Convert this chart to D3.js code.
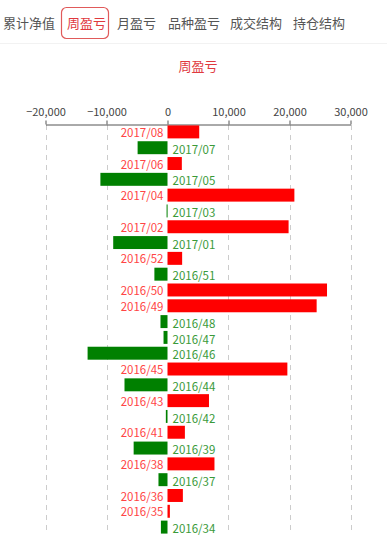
<!DOCTYPE html>
<html>
<head>
<meta charset="utf-8">
<script src="https://cdn.jsdelivr.net/npm/d3@7"></script>
<style>
  body { margin: 0; background: #fff; font-family: "Noto Sans CJK SC", "Noto Sans", sans-serif; }
</style>
</head>
<body>
<div id="chart"></div>
<script>
const TABS = ['累计净值', '周盈亏', '月盈亏', '品种盈亏', '成交结构', '持仓结构'];
const ACTIVE_TAB = '周盈亏';
const TITLE = '周盈亏';

const weeks = [
  '2017/08', '2017/07', '2017/06', '2017/05', '2017/04', '2017/03', '2017/02', '2017/01',
  '2016/52', '2016/51', '2016/50', '2016/49', '2016/48', '2016/47', '2016/46', '2016/45',
  '2016/44', '2016/43', '2016/42', '2016/41', '2016/39', '2016/38', '2016/37', '2016/36',
  '2016/35', '2016/34'
];
const profits = [
  5200, -4900, 2350, -11000, 20800, -150, 19850, -8900,
  2400, -2150, 26150, 24450, -1150, -650, -13100, 19650,
  -7050, 6800, -270, 2850, -5550, 7700, -1480, 2520,
  390, -1080
];
const xTicks = [-20000, -10000, 0, 10000, 20000, 30000];

const data = weeks.map((w, i) => ({ week: w, value: profits[i] }));

const W = 387, H = 548;
const svg = d3.select('#chart').append('svg').attr('width', W).attr('height', H);

// tab bar
const tabX = [3, 67, 117, 168, 230, 293];
const tabs = svg.append('g');
TABS.forEach((t, i) => {
  if (t === ACTIVE_TAB) {
    tabs.append('rect')
      .attr('x', 61.5).attr('y', 7.5).attr('width', 47).attr('height', 31)
      .attr('rx', 5).attr('fill', 'none').attr('stroke', '#e05a5a').attr('stroke-width', 1.2);
  }
  tabs.append('text')
    .attr('x', tabX[i]).attr('y', 24)
    .attr('dominant-baseline', 'middle')
    .attr('font-size', '13px')
    .attr('fill', t === ACTIVE_TAB ? '#e0393e' : '#555')
    .text(t);
});
svg.append('line')
  .attr('x1', 0).attr('x2', W).attr('y1', 43.5).attr('y2', 43.5)
  .attr('stroke', '#f2f2f2');

svg.append('text')
  .attr('x', 198).attr('y', 67)
  .attr('text-anchor', 'middle').attr('dominant-baseline', 'middle')
  .attr('font-size', '13px').attr('fill', '#e0393e')
  .text(TITLE);

const x = d3.scaleLinear().domain([-20000, 30000]).range([45.5, 350.5]);
const y = d3.scaleBand().domain(weeks).range([124, 535]).paddingInner(0.18).paddingOuter(0.09);

// dashed grid
svg.append('g')
  .selectAll('line')
  .data(xTicks.filter(d => d !== 0))
  .join('line')
  .attr('x1', d => Math.round(x(d)) + 0.5).attr('x2', d => Math.round(x(d)) + 0.5)
  .attr('y1', 125).attr('y2', 532)
  .attr('stroke', '#ccc').attr('stroke-dasharray', '5,5');

const axis = svg.append('g')
  .attr('transform', 'translate(0,124.5)')
  .call(d3.axisTop(x).tickValues(xTicks).tickSize(4).tickSizeOuter(0).tickPadding(5).tickFormat(d3.format(',')));
axis.select('.domain').attr('stroke', '#555');
axis.selectAll('.tick line').attr('stroke', '#555');
axis.selectAll('.tick text')
  .attr('font-family', '"Noto Sans CJK SC", "Noto Sans", sans-serif')
  .attr('font-size', '11px').attr('fill', '#444');

svg.append('g')
  .selectAll('rect')
  .data(data)
  .join('rect')
  .attr('x', d => x(Math.min(0, d.value)))
  .attr('y', d => y(d.week))
  .attr('width', d => Math.max(1, Math.abs(x(d.value) - x(0))))
  .attr('height', y.bandwidth())
  .attr('fill', d => d.value >= 0 ? '#ff0000' : '#008000');

svg.append('g')
  .selectAll('text')
  .data(data)
  .join('text')
  .attr('x', d => d.value >= 0 ? x(0) - 4 : x(0) + 5)
  .attr('y', d => y(d.week) + y.bandwidth() / 2 + (d.value >= 0 ? 2 : 3))
  .attr('text-anchor', d => d.value >= 0 ? 'end' : 'start')
  .attr('dominant-baseline', 'middle')
  .attr('font-size', '11.5px')
  .attr('fill', d => d.value >= 0 ? '#ff4545' : '#3a9a3a')
  .text(d => d.week);
</script>
</body>
</html>
